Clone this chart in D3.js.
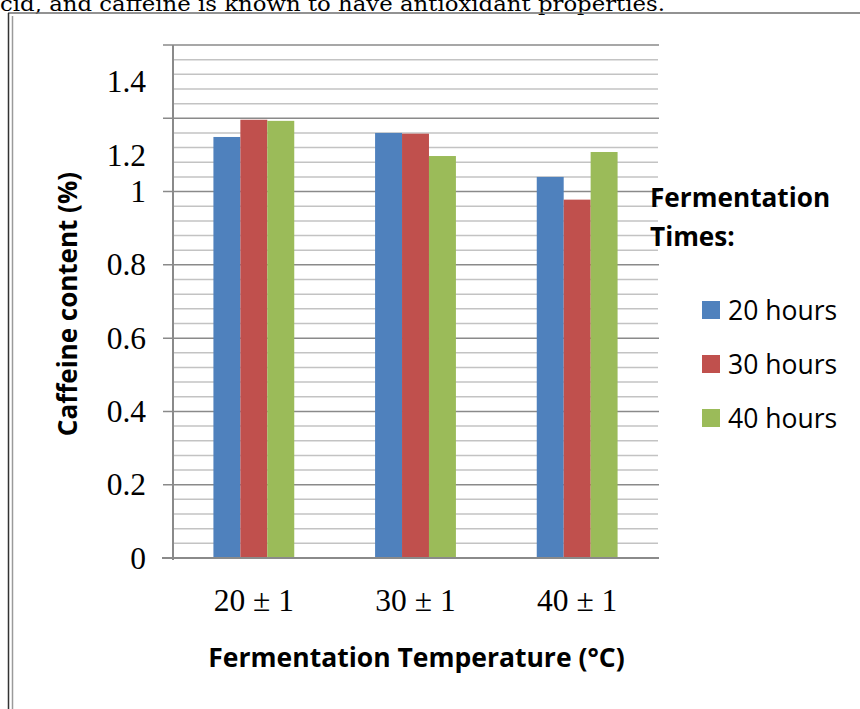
<!DOCTYPE html>
<html>
<head>
<meta charset="utf-8">
<script src="https://cdn.jsdelivr.net/npm/d3@7"></script>
<style>
  body { margin: 0; background: #fff; }
  svg { display: block; }
</style>
</head>
<body>
<div id="chart"></div>
<script>
// data
const categories = ["20 ± 1", "30 ± 1", "40 ± 1"];
const seriesNames = ["20 hours", "30 hours", "40 hours"];
const hours20 = [1.149, 1.160, 1.040];
const hours30 = [1.196, 1.158, 0.978];
const hours40 = [1.193, 1.097, 1.108];
const seriesColors = ["#4f81bd", "#c0504d", "#9bbb59"];
// the original figure prints the two top labels half a step low
const yTickPos = [0, 0.2, 0.4, 0.6, 0.8, 1, 1.1, 1.3];
const yTickLabels = ["0", "0.2", "0.4", "0.6", "0.8", "1", "1.2", "1.4"];
const yMajor = d3.range(0, 1.41, 0.2);
const yMinor = d3.range(0, 1.41, 0.04);
const pageText = "cid, and caffeine is known to have antioxidant properties.";

const width = 860, height = 709;
const svg = d3.select("#chart").append("svg")
  .attr("width", width)
  .attr("height", height);

// page text (cut off by the page top, as in the scan) and table border
svg.append("text")
  .attr("x", 0).attr("y", 10.5)
  .attr("font-family", "'DejaVu Serif', serif")
  .attr("font-size", 21)
  .attr("textLength", 665)
  .attr("lengthAdjust", "spacingAndGlyphs")
  .attr("fill", "#000")
  .text(pageText);

svg.append("line").attr("x1", 8).attr("x2", width).attr("y1", 13).attr("y2", 13)
  .attr("stroke", "#6e6e6e").attr("stroke-width", 1.5);
svg.append("line").attr("x1", 8.5).attr("x2", 8.5).attr("y1", 13).attr("y2", height)
  .attr("stroke", "#333").attr("stroke-width", 1.5);
svg.append("line").attr("x1", 12.5).attr("x2", 12.5).attr("y1", 16).attr("y2", height)
  .attr("stroke", "#9a9a9a").attr("stroke-width", 1.5);

// plot area
const plot = { left: 173, right: 658, top: 45, bottom: 558 };

const x0 = d3.scaleBand()
  .domain(categories)
  .range([plot.left, plot.right])
  .padding(0);
const bw = x0.bandwidth();
const x1 = d3.scaleBand()
  .domain(seriesNames)
  .range([bw * 0.25, bw * 0.75]);
const y = d3.scaleLinear()
  .domain([0, 1.4])
  .range([plot.bottom, plot.top]);

// minor gridlines
svg.append("g").selectAll("line")
  .data(yMinor.filter(v => !yMajor.some(m => Math.abs(m - v) < 1e-6)))
  .enter().append("line")
  .attr("x1", plot.left).attr("x2", plot.right)
  .attr("y1", d => y(d)).attr("y2", d => y(d))
  .attr("stroke", "#c3c3c3").attr("stroke-width", 1.5);

// major gridlines with tick stubs
svg.append("g").selectAll("line")
  .data(yMajor)
  .enter().append("line")
  .attr("x1", plot.left - 10).attr("x2", plot.right + 1)
  .attr("y1", d => y(d)).attr("y2", d => y(d))
  .attr("stroke", "#8a8a8a").attr("stroke-width", 1.5);

// vertical axis line
svg.append("line")
  .attr("x1", plot.left).attr("x2", plot.left)
  .attr("y1", plot.top).attr("y2", plot.bottom + 2)
  .attr("stroke", "#8a8a8a").attr("stroke-width", 2);

// bars
const rows = categories.map((c, i) => ({
  cat: c,
  vals: [hours20[i], hours30[i], hours40[i]]
}));

const groups = svg.append("g").selectAll("g")
  .data(rows)
  .enter().append("g")
  .attr("transform", d => `translate(${x0(d.cat)},0)`);

groups.selectAll("rect")
  .data(d => d.vals.map((v, j) => ({ name: seriesNames[j], v: v, j: j })))
  .enter().append("rect")
  .attr("x", d => x1(d.name))
  .attr("width", x1.bandwidth())
  .attr("y", d => y(d.v))
  .attr("height", d => y(0) - y(d.v))
  .attr("fill", d => seriesColors[d.j]);

// baseline on top of bars
svg.append("line")
  .attr("x1", plot.left - 11).attr("x2", plot.right + 1)
  .attr("y1", y(0)).attr("y2", y(0))
  .attr("stroke", "#8a8a8a").attr("stroke-width", 2);

// y axis labels
const yAxis = d3.axisLeft(y)
  .tickValues(yTickPos)
  .tickFormat((d, i) => yTickLabels[i])
  .tickSize(0)
  .tickPadding(27);
const gy = svg.append("g")
  .attr("transform", `translate(${plot.left},0)`)
  .call(yAxis);
gy.select(".domain").remove();
gy.selectAll("text")
  .attr("font-family", "'Liberation Serif', serif")
  .attr("font-size", 31.5)
  .attr("fill", "#000");

// x axis labels
const xAxis = d3.axisBottom(x0).tickSize(0).tickPadding(31);
const gx = svg.append("g")
  .attr("transform", `translate(0,${plot.bottom})`)
  .call(xAxis);
gx.select(".domain").remove();
gx.selectAll("text")
  .attr("font-family", "'Liberation Serif', serif")
  .attr("font-size", 31.5)
  .attr("fill", "#000");

// axis titles
svg.append("text")
  .attr("x", (plot.left + plot.right) / 2 + 1).attr("y", 667)
  .attr("text-anchor", "middle")
  .attr("font-family", "'Open Sans', sans-serif")
  .attr("font-weight", "bold")
  .attr("font-size", 26.5)
  .text("Fermentation Temperature (°C)");

svg.append("text")
  .attr("transform", "translate(77,304) rotate(-90)")
  .attr("text-anchor", "middle")
  .attr("font-family", "'Open Sans', sans-serif")
  .attr("font-weight", "bold")
  .attr("font-size", 26)
  .text("Caffeine content (%)");

// legend
const legend = svg.append("g");
legend.append("text")
  .attr("x", 650).attr("y", 207)
  .attr("font-family", "'Open Sans', sans-serif")
  .attr("font-weight", "bold")
  .attr("font-size", 26.2)
  .text("Fermentation");
legend.append("text")
  .attr("x", 650).attr("y", 246)
  .attr("font-family", "'Open Sans', sans-serif")
  .attr("font-weight", "bold")
  .attr("font-size", 26.2)
  .text("Times:");

const items = legend.selectAll(".item")
  .data(seriesNames)
  .enter().append("g")
  .attr("class", "item")
  .attr("transform", (d, i) => `translate(702,${310 + i * 54})`);
items.append("rect")
  .attr("x", 0).attr("y", -9)
  .attr("width", 18).attr("height", 18)
  .attr("fill", (d, i) => seriesColors[i]);
items.append("text")
  .attr("x", 26).attr("y", 0)
  .attr("dy", "0.36em")
  .attr("font-family", "'Open Sans', sans-serif")
  .attr("font-size", 26.5)
  .attr("fill", "#000")
  .text(d => d);
</script>
</body>
</html>
